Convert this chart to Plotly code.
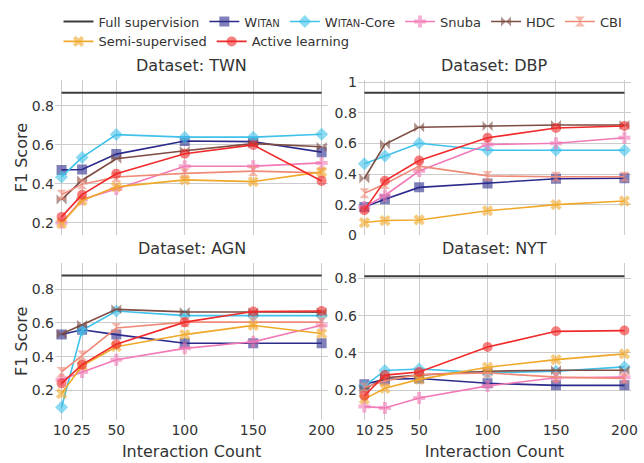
import plotly.graph_objects as go

x_counts = [10, 25, 50, 100, 150, 200]
datasets = ["TWN", "DBP", "AGN", "NYT"]

full_supervision = {"TWN": 0.867, "DBP": 0.932, "AGN": 0.882, "NYT": 0.812}

witan = {
    "TWN": [0.471, 0.473, 0.552, 0.619, 0.616, 0.562],
    "DBP": [0.185, 0.235, 0.313, 0.339, 0.369, 0.373],
    "AGN": [0.531, 0.560, 0.531, 0.479, 0.479, 0.479],
    "NYT": [0.232, 0.258, 0.263, 0.237, 0.226, 0.226],
}
witan_core = {
    "TWN": [0.435, 0.535, 0.652, 0.639, 0.639, 0.654],
    "DBP": [0.467, 0.518, 0.601, 0.556, 0.556, 0.556],
    "AGN": [0.099, 0.556, 0.671, 0.644, 0.644, 0.644],
    "NYT": [0.222, 0.306, 0.314, 0.293, 0.302, 0.325],
}
snuba = {
    "TWN": [0.200, 0.320, 0.373, 0.490, 0.490, 0.507],
    "DBP": [0.185, 0.260, 0.420, 0.593, 0.601, 0.637],
    "AGN": [0.264, 0.309, 0.381, 0.449, 0.488, 0.586],
    "NYT": [0.112, 0.105, 0.158, 0.223, 0.267, 0.270],
}
hdc = {
    "TWN": [0.319, 0.418, 0.528, 0.569, 0.606, 0.590],
    "DBP": [0.371, 0.595, 0.706, 0.714, 0.721, 0.721],
    "AGN": [0.535, 0.590, 0.681, 0.666, 0.664, 0.664],
    "NYT": [0.205, 0.267, 0.281, 0.302, 0.307, 0.307],
}
cbi = {
    "TWN": [0.344, 0.398, 0.435, 0.453, 0.465, 0.456],
    "DBP": [0.275, 0.335, 0.452, 0.388, 0.382, 0.382],
    "AGN": [0.309, 0.406, 0.570, 0.605, 0.605, 0.605],
    "NYT": [0.214, 0.250, 0.284, 0.293, 0.270, 0.263],
}
semi_supervised = {
    "TWN": [0.197, 0.314, 0.384, 0.420, 0.411, 0.461],
    "DBP": [0.083, 0.096, 0.100, 0.160, 0.200, 0.224],
    "AGN": [0.180, 0.346, 0.459, 0.531, 0.586, 0.537],
    "NYT": [0.152, 0.210, 0.258, 0.323, 0.364, 0.395],
}
active_learning = {
    "TWN": [0.230, 0.344, 0.451, 0.554, 0.599, 0.414],
    "DBP": [0.164, 0.356, 0.488, 0.637, 0.701, 0.714],
    "AGN": [0.241, 0.352, 0.473, 0.605, 0.668, 0.671],
    "NYT": [0.170, 0.281, 0.298, 0.432, 0.516, 0.520],
}

y_ranges = {"TWN": [0.136, 0.932], "DBP": [0.0, 1.015],
            "AGN": [0.023, 0.958], "NYT": [0.04, 0.884]}
y_dticks = {"TWN": 0.2, "DBP": 0.2, "AGN": 0.2, "NYT": 0.2}

SC = '<span style="font-size:10px">'
methods = [
    ("W" + SC + "ITAN</span>", witan, "#2b2b8c", "square", 10),
    ("W" + SC + "ITAN</span>-Core", witan_core, "#3fc1ea", "diamond", 10),
    ("Snuba", snuba, "#f27ab6", "cross", 10),
    ("HDC", hdc, "#7d4c42", "bowtie", 10),
    ("CBI", cbi, "#f08a78", "hourglass", 10),
    ("Semi-supervised", semi_supervised, "#f0a82a", "x", 10),
    ("Active learning", active_learning, "#f02a2a", "circle", 10),
]

FONT = "DejaVu Sans"
fig = go.Figure()

xdom = [[0.0, 0.4743], [0.5257, 1.0]]
ydom = [[0.5434, 1.0], [0.0, 0.4624]]

for i, ds in enumerate(datasets):
    r, c = divmod(i, 2)
    ax = "" if i == 0 else str(i + 1)
    xa, ya = "x" + ax, "y" + ax
    first = i == 0
    fig.add_trace(go.Scatter(
        x=[x_counts[0], x_counts[-1]], y=[full_supervision[ds]] * 2,
        mode="lines", name="Full supervision", legendgroup="full",
        showlegend=first, line=dict(color="#3c3c3c", width=2),
        xaxis=xa, yaxis=ya))
    for name, data, color, sym, size in methods:
        fig.add_trace(go.Scatter(
            x=x_counts, y=data[ds], mode="lines+markers", name=name,
            legendgroup=name, showlegend=first,
            line=dict(color=color, width=1.6),
            marker=dict(symbol=sym, size=size, color=color, opacity=0.6),
            xaxis=xa, yaxis=ya))
    layout_x = dict(domain=xdom[c], range=[5.2, 204.8], tickvals=x_counts,
                    showticklabels=(r == 1), showgrid=True,
                    gridcolor="#cccccc", gridwidth=1.3, zeroline=False,
                    tickfont=dict(size=14, color="#333", family=FONT),
                    anchor=ya)
    if r == 1:
        layout_x["title"] = dict(text="Interaction Count",
                                 font=dict(size=16, color="#333", family=FONT),
                                 standoff=8)
    layout_y = dict(domain=ydom[r], range=y_ranges[ds], dtick=y_dticks[ds],
                    showgrid=True, gridcolor="#cccccc", gridwidth=1.3,
                    zeroline=False, anchor=xa,
                    tickfont=dict(size=14, color="#333", family=FONT))
    if c == 0:
        layout_y["title"] = dict(text="F1 Score",
                                 font=dict(size=16, color="#333", family=FONT),
                                 standoff=0)
    fig.update_layout({"xaxis" + ax: layout_x, "yaxis" + ax: layout_y})
    fig.add_annotation(text="Dataset: " + ds, xref="paper", yref="paper",
                       x=sum(xdom[c]) / 2, y=ydom[r][1], yshift=3,
                       xanchor="center", yanchor="bottom", showarrow=False,
                       font=dict(size=16, color="#333", family=FONT))

fig.update_layout(
    width=644, height=463,
    margin=dict(l=55, r=6, t=77, b=40),
    plot_bgcolor="white", paper_bgcolor="white",
    font=dict(family=FONT, color="#333"),
    legend=dict(orientation="h", x=0.5, xanchor="center", y=1.216,
                yanchor="top", font=dict(size=13, color="#333", family=FONT),
                itemwidth=30, tracegroupgap=0),
)

fig.write_html("out.html")
